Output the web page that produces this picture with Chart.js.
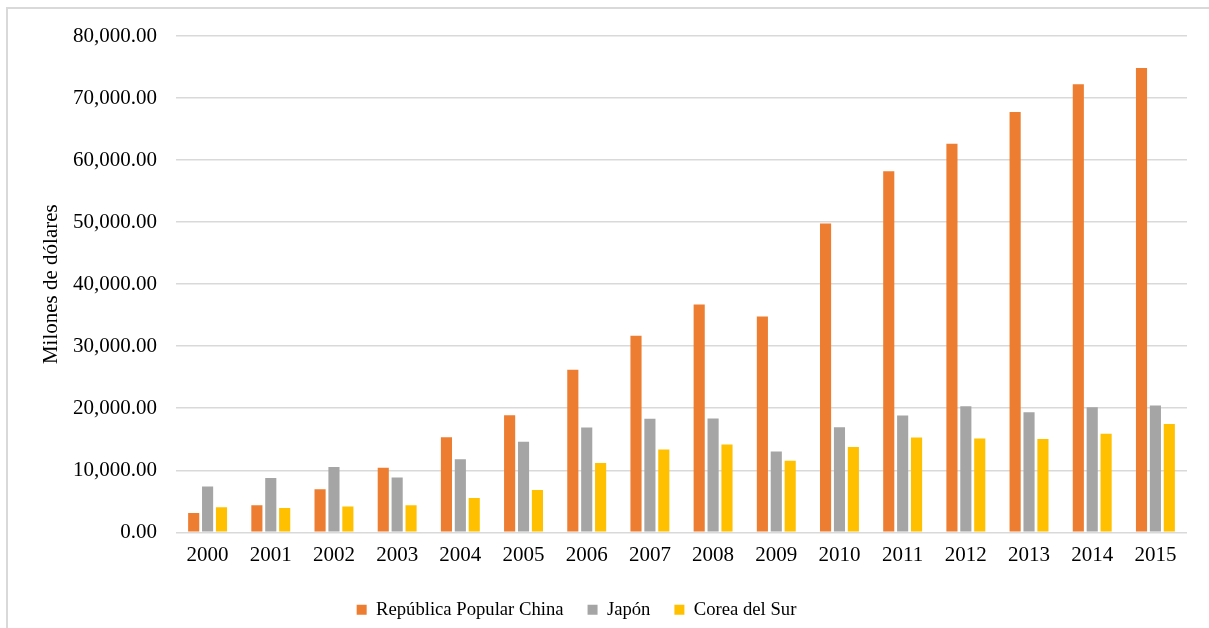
<!DOCTYPE html>
<html>
<head>
<meta charset="utf-8">
<script src="https://cdn.jsdelivr.net/npm/chart.js@4"></script>
<style>
  html, body { margin: 0; padding: 0; background: #fff; overflow: hidden; }
  #marco { position: absolute; left: 6px; top: 7px; width: 1300px; height: 700px; border: 2px solid #d9d9d9; }
  #lienzo { position: absolute; left: 0; top: 0; width: 1209px; height: 628px; }
</style>
</head>
<body>
<div id="marco"></div>
<div id="lienzo"><canvas id="grafica" width="1209" height="628"></canvas></div>
<script>
const anios = ['2000', '2001', '2002', '2003', '2004', '2005', '2006', '2007',
               '2008', '2009', '2010', '2011', '2012', '2013', '2014', '2015'];

// Millones de dólares
const china = [3130, 4350, 6940, 10390, 15320, 18870, 26190, 31680,
               36730, 34790, 49790, 58180, 62650, 67740, 72210, 74840];
const japon = [7370, 8770, 10550, 8820, 11770, 14580, 16890, 18290,
               18340, 13020, 16940, 18820, 20320, 19350, 20160, 20440];
const corea = [4030, 3930, 4150, 4350, 5550, 6840, 11190, 13340,
               14150, 11520, 13770, 15270, 15110, 15060, 15870, 17480];

const familia = "'Liberation Serif', 'Times New Roman', serif";
const fuente = { family: familia, size: 21 };
const fuenteLeyenda = { family: familia, size: 18.67 };

// la leyenda del original está un poco a la izquierda del centro
const moverLeyenda = {
    id: 'moverLeyenda',
    afterLayout(chart) {
        if (chart.legend) chart.legend.left -= 34;
    }
};

new Chart(document.getElementById('grafica').getContext('2d'), {
    type: 'bar',
    data: {
        labels: anios,
        datasets: [
            { label: 'República Popular China', data: china, backgroundColor: '#ED7D31' },
            { label: 'Japón', data: japon, backgroundColor: '#A5A5A5' },
            { label: 'Corea del Sur', data: corea, backgroundColor: '#FFC000' }
        ]
    },
    plugins: [moverLeyenda],
    options: {
        responsive: false,
        animation: false,
        layout: { padding: { top: 36, right: 22, left: 0, bottom: -1 } },
        datasets: { bar: { categoryPercentage: 0.66, barPercentage: 0.8 } },
        plugins: {
            tooltip: { enabled: false },
            legend: {
                position: 'bottom',
                labels: { font: fuenteLeyenda, color: '#000', boxWidth: 10, boxHeight: 10, padding: 24 }
            }
        },
        scales: {
            x: {
                grid: { display: false },
                border: { display: false },
                ticks: { font: fuente, color: '#000', padding: 3 },
                afterFit: (s) => { s.height = 44; }
            },
            y: {
                min: 0,
                max: 80000,
                grid: { color: '#d9d9d9', lineWidth: 1.5, drawTicks: false },
                border: { display: false },
                ticks: {
                    stepSize: 10000,
                    font: fuente,
                    color: '#000',
                    padding: 19,
                    callback: (v) => v.toLocaleString('en-US', { minimumFractionDigits: 2, maximumFractionDigits: 2 })
                },
                title: {
                    display: true,
                    text: 'Milones de dólares',
                    font: fuente,
                    color: '#000',
                    padding: { top: 39, bottom: 0 }
                },
                afterFit: (s) => { s.width = 176; }
            }
        }
    }
});
</script>
</body>
</html>
